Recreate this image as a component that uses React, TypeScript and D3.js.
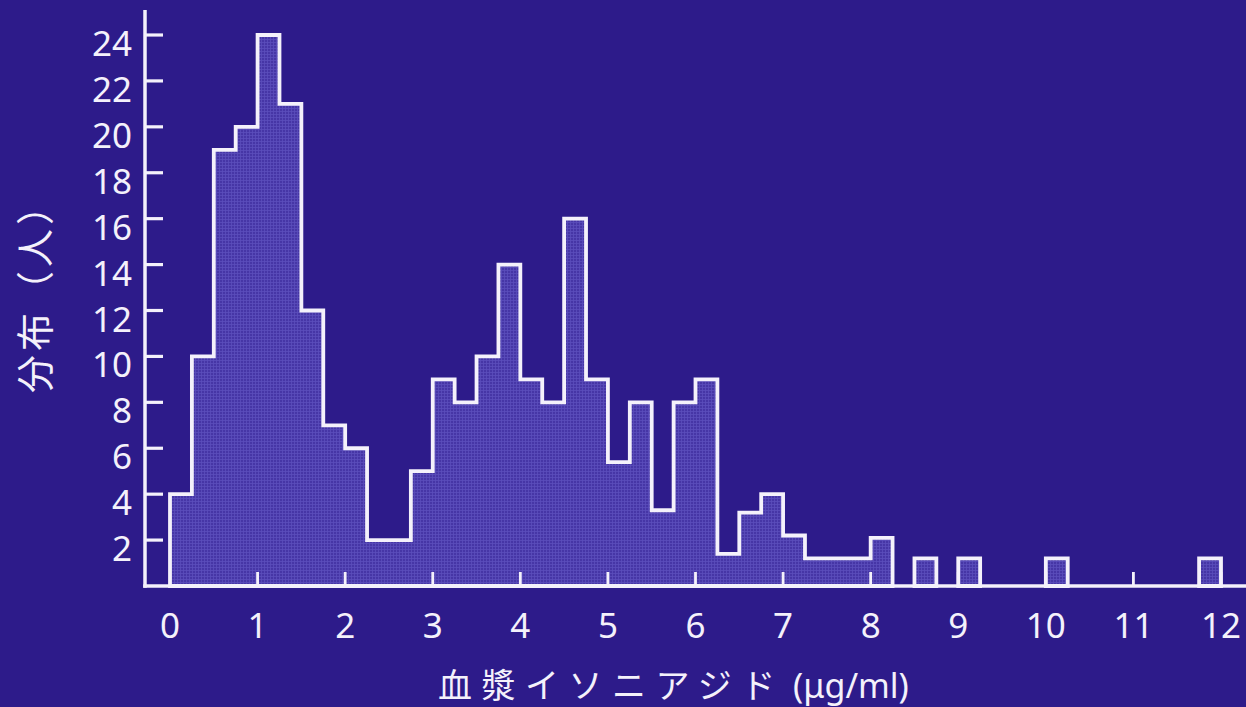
import React from "react";
import * as d3 from "d3";

// Histogram of plasma isoniazid concentration (bins of 0.25 µg/ml)
const BIN_WIDTH = 0.25;
const binStarts = [
  0, 0.25, 0.5, 0.75, 1.0, 1.25, 1.5, 1.75, 2.0, 2.25, 2.5, 2.75,
  3.0, 3.25, 3.5, 3.75, 4.0, 4.25, 4.5, 4.75, 5.0, 5.25, 5.5, 5.75,
  6.0, 6.25, 6.5, 6.75, 7.0, 7.25, 7.5, 7.75, 8.0,
  8.5, 9.0, 10.0, 11.75,
];
const counts = [
  4, 10, 19, 20, 24, 21, 12, 7, 6, 2, 2, 5,
  9, 8, 10, 14, 9, 8, 16, 9, 5.4, 8, 3.3, 8,
  9, 1.4, 3.2, 4, 2.2, 1.2, 1.2, 1.2, 2.1,
  1.2, 1.2, 1.2, 1.2,
];
const yTicks = [2, 4, 6, 8, 10, 12, 14, 16, 18, 20, 22, 24];
const xTicks = [0, 1, 2, 3, 4, 5, 6, 7, 8, 9, 10, 11, 12];

const W = 1246;
const H = 707;
const BG = "#2d1b8a";
const INK = "#f4f1fb";

export default function App() {
  const x = d3.scaleLinear().domain([0, 12]).range([170, 1221]);
  const y = d3.scaleLinear().domain([0, 24]).range([586, 35]);
  const axisX = 145;
  const baseY = y(0);

  // group bins into contiguous runs so each run is one outlined shape
  const runs: { s: number; c: number }[][] = [];
  binStarts.forEach((s, i) => {
    const last = runs[runs.length - 1];
    const prev = last ? last[last.length - 1] : null;
    if (prev && Math.abs(prev.s + BIN_WIDTH - s) < 1e-6) last.push({ s, c: counts[i] });
    else runs.push([{ s, c: counts[i] }]);
  });

  const line = d3.line<[number, number]>();
  const paths = runs.map((run) => {
    const pts: [number, number][] = [[x(run[0].s), baseY]];
    run.forEach((b) => {
      pts.push([x(b.s), y(b.c)]);
      pts.push([x(b.s + BIN_WIDTH), y(b.c)]);
    });
    pts.push([x(run[run.length - 1].s + BIN_WIDTH), baseY]);
    return line(pts) + "Z";
  });

  const numFont = "'Noto Sans', 'DejaVu Sans', sans-serif";
  const jpFont = "'Noto Sans CJK JP', sans-serif";

  return (
    <svg
      width={W}
      height={H}
      style={{ position: "fixed", left: 0, top: 0, display: "block" }}
    >
      <defs>
        <pattern id="grain" width="3" height="3" patternUnits="userSpaceOnUse">
          <rect width="3" height="3" fill="#4636a6" />
          <rect width="3" height="1" fill="#5b4dbc" opacity="0.8" />
          <rect width="1" height="3" fill="#5b4dbc" opacity="0.8" />
        </pattern>
      </defs>
      <rect width={W} height={H} fill={BG} />

      {/* histogram */}
      {paths.map((d, i) => (
        <path
          key={i}
          d={d}
          fill="url(#grain)"
          stroke={INK}
          strokeWidth={3.8}
          strokeLinejoin="miter"
        />
      ))}

      {/* y axis */}
      <line x1={axisX} x2={axisX} y1={10} y2={baseY + 1.8} stroke={INK} strokeWidth={3.5} />
      {yTicks.map((t) => (
        <g key={t}>
          <line x1={axisX} x2={axisX + 18} y1={y(t)} y2={y(t)} stroke={INK} strokeWidth={3.2} />
          <text
            x={132}
            y={y(t) + 21}
            textAnchor="end"
            fill={INK}
            fontSize={35}
            fontFamily={numFont}
          >
            {t}
          </text>
        </g>
      ))}

      {/* x axis */}
      <line x1={axisX - 1.8} x2={W} y1={baseY} y2={baseY} stroke={INK} strokeWidth={3.5} />
      {xTicks.map((t) => (
        <g key={t}>
          {t > 0 && (
            <line x1={x(t)} x2={x(t)} y1={baseY} y2={baseY - 14} stroke={INK} strokeWidth={2.8} />
          )}
          <text
            x={x(t)}
            y={638}
            textAnchor="middle"
            fill={INK}
            fontSize={35}
            fontFamily={numFont}
          >
            {t}
          </text>
        </g>
      ))}

      {/* axis titles */}
      <text
        transform="translate(49,288) rotate(-90)"
        textAnchor="middle"
        fill={INK}
        fontSize={38}
        letterSpacing={4}
        fontFamily={jpFont}
      >
        分布（人）
      </text>
      <text y={698} fill={INK} fontSize={34} fontFamily={jpFont}>
        <tspan x={438} letterSpacing={9.5}>血漿イソニアジド</tspan>
        <tspan x={793} fontFamily={numFont}>(μg/ml)</tspan>
      </text>
    </svg>
  );
}
